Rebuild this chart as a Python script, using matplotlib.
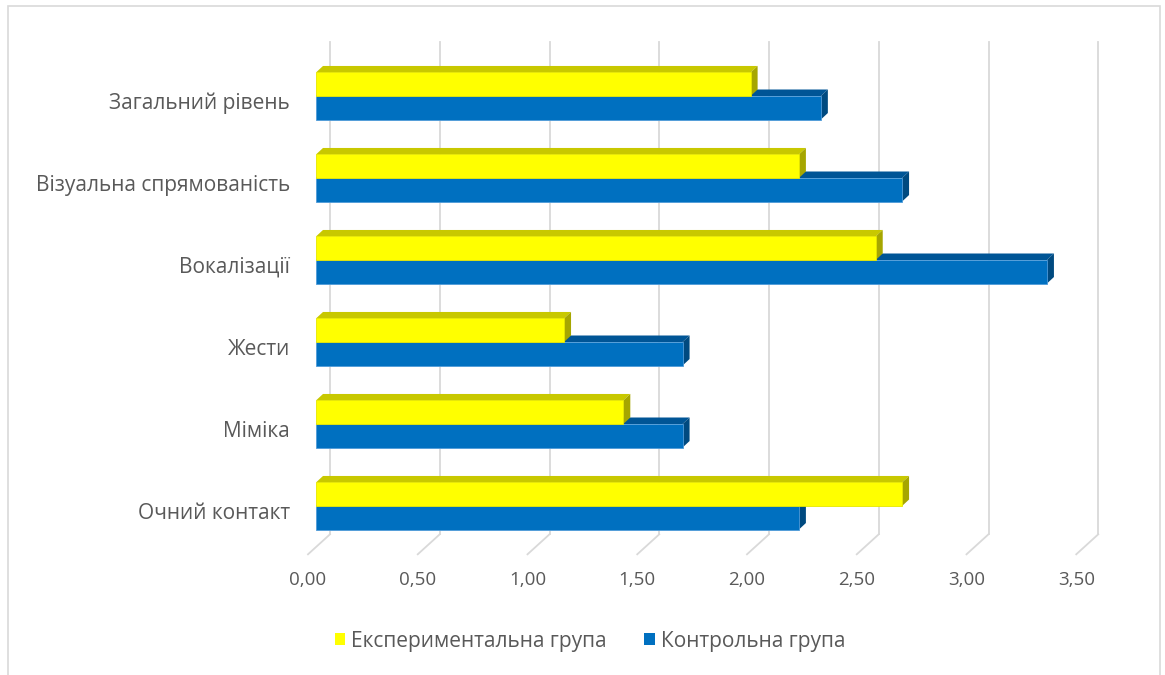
import matplotlib.pyplot as plt
from matplotlib.patches import Polygon, Rectangle, Patch

categories = ["Очний контакт", "Міміка", "Жести", "Вокалізації",
              "Візуальна спрямованість", "Загальний рівень"]
experimental = [2.67, 1.40, 1.13, 2.55, 2.20, 1.98]
control = [2.20, 1.67, 1.67, 3.33, 2.67, 2.30]
series_names = ["Експериментальна група", "Контрольна група"]
ticks = [0.0, 0.5, 1.0, 1.5, 2.0, 2.5, 3.0, 3.5]

plt.rcParams['font.family'] = ['Open Sans', 'DejaVu Sans']
text_color = "#595959"

W, H = 1165, 675
fig = plt.figure(figsize=(W / 100, H / 100), dpi=100)

# axes = the plane where the bar fronts sit; 219.5 px per unit, 82 px per category
x0_px, px_unit = 316, 219.5
y_bot_px, y_top_px = 547, 55
ax = fig.add_axes([x0_px / W, (H - y_bot_px) / H,
                   3.6 * px_unit / W, (y_bot_px - y_top_px) / H])
ax.set_xlim(0, 3.6)
ax.set_ylim(-0.5, 5.5)
ax.axis("off")

sx, sy = 1 / px_unit, 1 / 82  # pixel -> data

# depth offsets (pixels): bar thickness, back wall, front edge
bar_dx, bar_dy = 7 * sx, 6.5 * sy
back_dx, back_dy = 14 * sx, 12.7 * sy
front_dx, front_dy = -8 * sx, -7.3 * sy

# gridlines on the back wall + floor segment
grid_c = "#D9D9D9"
for t in ticks:
    ax.plot([t + back_dx, t + back_dx], [-0.5 + back_dy, 5.66],
            color=grid_c, lw=1.3, clip_on=False, zorder=0)
    ax.plot([t + front_dx, t + back_dx], [-0.5 + front_dy, -0.5 + back_dy],
            color=grid_c, lw=1.3, clip_on=False, zorder=0)
    ax.text(t + front_dx, -0.902, f"{t:.2f}".replace(".", ","),
            ha="center", va="center", fontsize=13.5, color=text_color)

h = 0.287


def bar3d(y_low, v, front, top, side, edge):
    y_high = y_low + h
    ax.add_patch(Polygon([(0, y_high), (v, y_high), (v + bar_dx, y_high + bar_dy),
                          (bar_dx, y_high + bar_dy)], closed=True,
                         facecolor=top, edgecolor="none", zorder=2))
    ax.add_patch(Polygon([(v, y_low), (v, y_high), (v + bar_dx, y_high + bar_dy),
                          (v + bar_dx, y_low + bar_dy)], closed=True,
                         facecolor=side, edgecolor="none", zorder=2))
    ax.add_patch(Rectangle((0, y_low), v, h, facecolor=front,
                           edgecolor=edge, lw=0.6, zorder=3))


for i, (e, c) in enumerate(zip(experimental, control)):
    bar3d(i - h, c, "#0070C0", "#005596", "#004A80", "#4F9BD9")
    bar3d(i, e, "#FFFF00", "#C8C800", "#A6A600", "#E6E600")
    ax.text(-0.118, i + front_dy, categories[i], ha="right", va="center",
            fontsize=15, color=text_color)

handles = [Patch(facecolor="#FFFF00", edgecolor="none"),
           Patch(facecolor="#0070C0", edgecolor="none")]
fig.legend(handles, series_names, loc="center", bbox_to_anchor=(590 / W, 1 - 641 / H),
           ncol=2, frameon=False, fontsize=15, labelcolor=text_color,
           handlelength=0.5, handleheight=0.5, handletextpad=0.3,
           columnspacing=1.8)

# chart area frame
fig.patches.append(Rectangle((8 / W, -0.01), (1160 - 8) / W, 1.01 - 6 / H,
                             transform=fig.transFigure, fill=False,
                             edgecolor=grid_c, lw=1.2))

fig.savefig("out.png", dpi=100)
